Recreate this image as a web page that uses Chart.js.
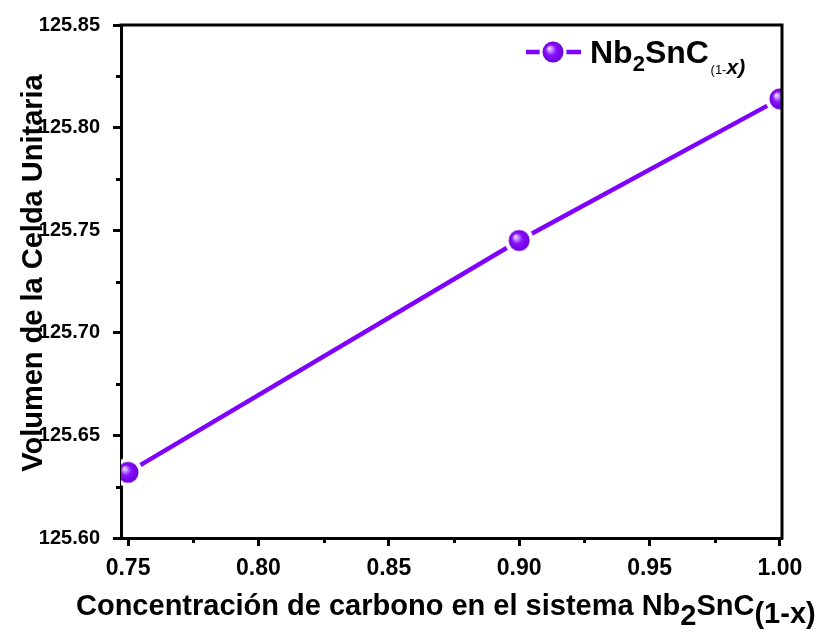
<!DOCTYPE html>
<html>
<head>
<meta charset="utf-8">
<title>Volumen de la Celda Unitaria</title>
<script src="https://cdn.jsdelivr.net/npm/chart.js@4.4.0/dist/chart.umd.min.js"></script>
<style>
    html, body { margin: 0; padding: 0; background: #fff; }
    #wrap { width: 823px; height: 637px; }
</style>
</head>
<body>
<div id="wrap"><canvas id="volChart" width="823" height="637"></canvas></div>
<script>
// ===============================
// Data
// ===============================
const concentracion = [0.75, 0.90, 1.00];
const volumen = [125.632, 125.745, 125.814];
const xTickValues = [0.75, 0.80, 0.85, 0.90, 0.95, 1.00];
const yTickValues = [125.60, 125.65, 125.70, 125.75, 125.80, 125.85];

const FONT = "'Liberation Sans', Arial, sans-serif";
const PURPLE = '#8000ff';

// shaded purple ball with a white halo, so the line stops short of it
function makeSphere(r, halo) {
    const size = Math.ceil(halo) * 2 + 2;
    const c = document.createElement('canvas');
    c.width = c.height = size;
    const g = c.getContext('2d');
    const m = size / 2;
    g.fillStyle = '#fff';
    g.beginPath(); g.arc(m, m, halo, 0, Math.PI * 2); g.fill();
    const grad = g.createRadialGradient(m - r * 0.38, m - r * 0.38, 0, m, m, r);
    grad.addColorStop(0, '#f8f0ff');
    grad.addColorStop(0.22, '#c890ff');
    grad.addColorStop(0.5, '#8a10ff');
    grad.addColorStop(1, '#6a00d8');
    g.fillStyle = grad;
    g.beginPath(); g.arc(m, m, r, 0, Math.PI * 2); g.fill();
    return c;
}
const sphere = makeSphere(10.5, 14.5);
const legendSphere = makeSphere(10.5, 13.5);

// draws a run of text pieces one after another (for sub-indices)
function drawRuns(ctx, x, y, runs) {
    ctx.textAlign = 'left';
    ctx.textBaseline = 'alphabetic';
    runs.forEach(r => {
        ctx.font = r.font;
        ctx.fillText(r.text, x, y + (r.dy || 0));
        x += ctx.measureText(r.text).width;
    });
    return x;
}

// ===============================
// Frame, minor ticks, titles, legend
// ===============================
const decorPlugin = {
    id: 'decor',
    afterDraw(chart) {
        const ctx = chart.ctx;
        const a = chart.chartArea;
        const xs = chart.scales.x, ys = chart.scales.y;
        ctx.save();
        ctx.strokeStyle = '#000';
        ctx.fillStyle = '#000';
        ctx.lineWidth = 3;

        // top and right edges of the box
        ctx.beginPath();
        ctx.moveTo(a.left - 1.5, a.top);
        ctx.lineTo(a.right, a.top);
        ctx.lineTo(a.right, a.bottom + 1.5);
        ctx.stroke();

        // minor ticks halfway between the labelled ones
        ctx.beginPath();
        for (let i = 0; i < yTickValues.length - 1; i++) {
            const py = Math.round(ys.getPixelForValue((yTickValues[i] + yTickValues[i + 1]) / 2)) + 0.5;
            ctx.moveTo(a.left, py);
            ctx.lineTo(a.left - 5, py);
        }
        for (let i = 0; i < xTickValues.length - 1; i++) {
            const px = Math.round(xs.getPixelForValue((xTickValues[i] + xTickValues[i + 1]) / 2)) + 0.5;
            ctx.moveTo(px, a.bottom);
            ctx.lineTo(px, a.bottom + 5);
        }
        ctx.stroke();

        // x axis title
        const big = 'bold 29px ' + FONT;
        drawRuns(ctx, 76, 615, [
            { text: 'Concentración de carbono en el sistema Nb', font: big },
            { text: '2', font: big, dy: 10 },
            { text: 'SnC', font: big },
            { text: '(1-x)', font: big, dy: 8 }
        ]);

        // y axis title
        ctx.save();
        ctx.translate(42, 273);
        ctx.rotate(-Math.PI / 2);
        ctx.font = big;
        ctx.textAlign = 'center';
        ctx.textBaseline = 'alphabetic';
        ctx.fillText('Volumen de la Celda Unitaria', 0, 0);
        ctx.restore();

        // legend
        ctx.strokeStyle = PURPLE;
        ctx.lineWidth = 4.5;
        ctx.beginPath();
        ctx.moveTo(526, 52);
        ctx.lineTo(581, 52);
        ctx.stroke();
        ctx.drawImage(legendSphere, 553 - legendSphere.width / 2, 52 - legendSphere.height / 2);
        ctx.fillStyle = '#000';
        drawRuns(ctx, 590, 63, [
            { text: 'Nb', font: 'bold 32px ' + FONT },
            { text: '2', font: 'bold 22px ' + FONT, dy: 8 },
            { text: 'SnC', font: 'bold 32px ' + FONT },
            { text: ' ', font: '6px ' + FONT },
            { text: '(1-', font: '13px ' + FONT, dy: 11 },
            { text: 'x)', font: 'italic bold 21px ' + FONT, dy: 11 }
        ]);
        ctx.restore();
    }
};

// ===============================
// Chart
// ===============================
const ctx = document.getElementById('volChart').getContext('2d');
new Chart(ctx, {
    type: 'line',
    data: {
        datasets: [{
            label: 'Nb2SnC(1-x)',
            data: concentracion.map((x, i) => ({ x: x, y: volumen[i] })),
            borderColor: PURPLE,
            borderWidth: 4.5,
            pointStyle: sphere,
            pointRadius: 10,
            pointHoverRadius: 10,
            tension: 0,
            fill: false
        }]
    },
    options: {
        responsive: false,
        animation: false,
        events: [],
        layout: {
            autoPadding: false,
            padding: { top: 18, right: 41, left: 0, bottom: 0 }
        },
        plugins: {
            legend: { display: false },
            tooltip: { enabled: false },
            title: { display: false }
        },
        scales: {
            x: {
                type: 'linear',
                min: 0.7473,
                max: 1.0008,
                z: 1,
                afterBuildTicks: s => { s.ticks = xTickValues.map(v => ({ value: v })); },
                afterFit: s => { s.height = 99; },
                ticks: {
                    color: '#000',
                    padding: 9,
                    maxRotation: 0,
                    font: { family: FONT, size: 23, weight: 'bold' },
                    callback: v => Number(v).toFixed(2)
                },
                grid: {
                    display: true,
                    drawOnChartArea: false,
                    drawTicks: true,
                    tickLength: 8,
                    tickWidth: 3,
                    tickColor: '#000'
                },
                border: { display: true, color: '#000', width: 3 }
            },
            y: {
                type: 'linear',
                min: 125.60,
                max: 125.85,
                z: 1,
                afterBuildTicks: s => { s.ticks = yTickValues.map(v => ({ value: v })); },
                afterFit: s => { s.width = 121; },
                ticks: {
                    color: '#000',
                    padding: 13,
                    font: { family: FONT, size: 20, weight: 'bold' },
                    callback: v => Number(v).toFixed(2)
                },
                grid: {
                    display: true,
                    drawOnChartArea: false,
                    drawTicks: true,
                    tickLength: 8,
                    tickWidth: 3,
                    tickColor: '#000'
                },
                border: { display: true, color: '#000', width: 3 }
            }
        }
    },
    plugins: [decorPlugin]
});
</script>
</body>
</html>
